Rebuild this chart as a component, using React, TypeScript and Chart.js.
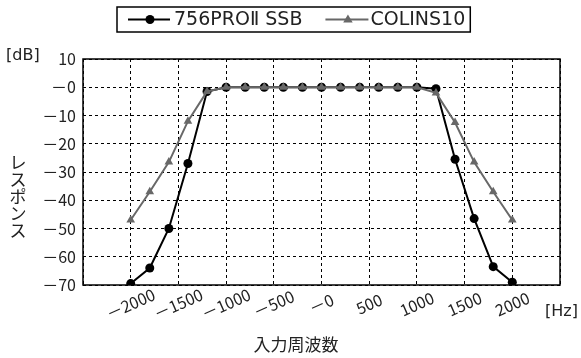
import { useEffect, useRef } from 'react';
import { Chart, registerables } from 'chart.js';

Chart.register(...registerables);

const FREQS = [-2000, -1800, -1600, -1400, -1200, -1000, -800, -600, -400, -200, 0, 200, 400, 600, 800, 1000, 1200, 1400, 1600, 1800, 2000];
const SSB = [-69.5, -64, -50, -27, -1.5, 0, 0, 0, 0, 0, 0, 0, 0, 0, 0, 0, -0.5, -25.5, -46.5, -63.5, -69];
const COLINS = [-47, -37, -26.5, -12, -1.5, 0, 0, 0, 0, 0, 0, 0, 0, 0, 0, 0, -2, -12.5, -26.5, -37, -47];
const X_TICKS = [-2000, -1500, -1000, -500, 0, 500, 1000, 1500, 2000];
const SERIES_LABELS = ['756PROⅡ SSB', 'COLINS10'];
const Y_UNIT = '[dB]';
const X_UNIT = '[Hz]';
const Y_TITLE = 'レスポンス';
const X_TITLE = '入力周波数';

const BLACK = '#000000';
const GRAY = '#686868';
const TEXT = '#222222';
const JP = "'Noto Sans CJK JP', 'Noto Sans', sans-serif";
const LAT = "'DejaVu Sans', 'Noto Sans CJK JP', sans-serif";
const MINUS = '－';

const fmtNeg = (v: number) => (v === 0 ? MINUS + '0' : v < 0 ? MINUS + Math.abs(v) : String(v));

function drawMarker(ctx: CanvasRenderingContext2D, kind: string, x: number, y: number, color: string) {
  ctx.fillStyle = color;
  ctx.beginPath();
  if (kind === 'circle') {
    ctx.arc(x, y, 4.5, 0, Math.PI * 2);
  } else {
    const r = 5;
    ctx.moveTo(x, y - r);
    ctx.lineTo(x + r * 0.95, y + r * 0.6);
    ctx.lineTo(x - r * 0.95, y + r * 0.6);
    ctx.closePath();
  }
  ctx.fill();
}

const decor = {
  id: 'decor',
  beforeDatasetsDraw(chart: any) {
    const { ctx, chartArea: a } = chart;
    ctx.save();
    ctx.setLineDash([]);
    ctx.strokeStyle = BLACK;
    ctx.lineWidth = 1.5;
    ctx.strokeRect(a.left, a.top, a.right - a.left, a.bottom - a.top);
    ctx.restore();
  },
  afterDraw(chart: any) {
    const { ctx, chartArea: a, scales } = chart;
    ctx.save();
    ctx.fillStyle = TEXT;
    // x tick labels (rotated, centred on tick)
    ctx.font = `16px ${JP}`;
    ctx.textAlign = 'center';
    ctx.textBaseline = 'middle';
    X_TICKS.forEach((v) => {
      const x = scales.x.getPixelForValue(v);
      ctx.save();
      ctx.translate(x, a.bottom + 19);
      ctx.rotate((-24 * Math.PI) / 180);
      ctx.fillText(fmtNeg(v), 0, 0);
      ctx.restore();
    });
    // units
    ctx.font = `16px ${LAT}`;
    ctx.textAlign = 'left';
    ctx.fillText(X_UNIT, a.right - 15, a.bottom + 27);
    ctx.fillText(Y_UNIT, 6, a.top - 3);
    // x title
    ctx.font = `17px ${JP}`;
    ctx.textAlign = 'center';
    ctx.fillText(X_TITLE, 296, a.bottom + 60);
    // y title stacked
    const chars = Array.from(Y_TITLE);
    const pitch = 17;
    const cy = 197;
    chars.forEach((c, i) => {
      ctx.fillText(c, 18, cy + (i - (chars.length - 1) / 2) * pitch);
    });
    // legend
    ctx.font = `19px ${LAT}`;
    const w1 = ctx.measureText(SERIES_LABELS[0]).width;
    const w2 = ctx.measureText(SERIES_LABELS[1]).width;
    const padL = 11, line1 = 42, gap1 = 4, gap2 = 23, line2 = 43, gap3 = 2, padR = 5;
    const total = padL + line1 + gap1 + w1 + gap2 + line2 + gap3 + w2 + padR;
    const left = Math.round(293.5 - total / 2);
    const top = 7, h = 25, my = top + h / 2;
    ctx.setLineDash([]);
    ctx.strokeStyle = BLACK;
    ctx.lineWidth = 1.5;
    ctx.strokeRect(left, top, total, h);
    let x = left + padL;
    ctx.lineWidth = 2;
    ctx.beginPath();
    ctx.moveTo(x, my);
    ctx.lineTo(x + line1, my);
    ctx.stroke();
    drawMarker(ctx, 'circle', x + line1 / 2 + 1, my, BLACK);
    x += line1 + gap1;
    ctx.fillStyle = TEXT;
    ctx.textAlign = 'left';
    ctx.textBaseline = 'middle';
    ctx.fillText(SERIES_LABELS[0], x, my + 1);
    x += w1 + gap2;
    ctx.strokeStyle = GRAY;
    ctx.beginPath();
    ctx.moveTo(x, my);
    ctx.lineTo(x + line2, my);
    ctx.stroke();
    drawMarker(ctx, 'triangle', x + line2 / 2 + 1, my, GRAY);
    x += line2 + gap3;
    ctx.fillStyle = TEXT;
    ctx.fillText(SERIES_LABELS[1], x, my + 1);
    ctx.restore();
  },
};

export default function App() {
  const ref = useRef<HTMLCanvasElement | null>(null);
  useEffect(() => {
    if (!ref.current) return;
    const chart = new Chart(ref.current, {
      type: 'line',
      data: {
        datasets: [
          {
            label: SERIES_LABELS[0],
            data: FREQS.map((f, i) => ({ x: f, y: SSB[i] })),
            borderColor: BLACK,
            backgroundColor: BLACK,
            borderWidth: 2,
            pointStyle: 'circle',
            pointRadius: 4.5,
            pointBackgroundColor: BLACK,
            pointBorderWidth: 0,
            tension: 0,
            order: 1,
          },
          {
            label: SERIES_LABELS[1],
            data: FREQS.map((f, i) => ({ x: f, y: COLINS[i] })),
            borderColor: GRAY,
            backgroundColor: GRAY,
            borderWidth: 2,
            pointStyle: 'triangle',
            pointRadius: 5,
            pointBackgroundColor: GRAY,
            pointBorderWidth: 0,
            tension: 0,
            order: 0,
          },
        ],
      },
      options: {
        animation: false,
        responsive: true,
        maintainAspectRatio: false,
        layout: { padding: { top: 59, right: 21, left: 0, bottom: 0 } },
        plugins: { legend: { display: false }, tooltip: { enabled: false } },
        scales: {
          x: {
            type: 'linear',
            min: -2500,
            max: 2500,
            ticks: { display: false, stepSize: 500 },
            grid: { color: BLACK, lineWidth: 1, drawTicks: false },
            border: { display: false, dash: [3, 3] },
            afterFit: (s: any) => {
              s.height = 73;
            },
          },
          y: {
            min: -70,
            max: 10,
            ticks: {
              stepSize: 10,
              padding: 7,
              color: TEXT,
              font: { family: JP, size: 16 },
              callback: (v: any) => fmtNeg(Number(v)),
            },
            grid: { color: BLACK, lineWidth: 1, drawTicks: false },
            border: { display: false, dash: [3, 3] },
            afterFit: (s: any) => {
              s.width = 83;
            },
          },
        },
      },
      plugins: [decor],
    });
    return () => chart.destroy();
  }, []);
  return (
    <div style={{ position: 'fixed', left: 0, top: 0, width: 581, height: 358, background: '#fff' }}>
      <canvas ref={ref} />
    </div>
  );
}
